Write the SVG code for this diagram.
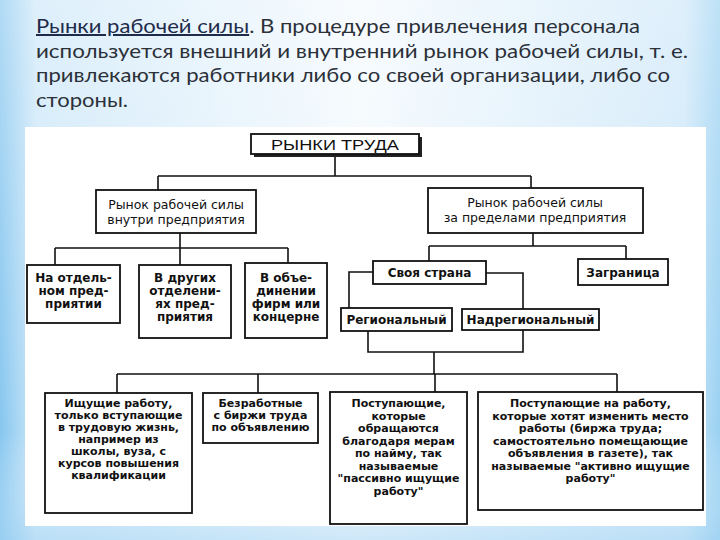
<svg xmlns="http://www.w3.org/2000/svg" width="720" height="540" viewBox="0 0 720 540">
<defs>
<linearGradient id="bgH" x1="0" y1="0" x2="1" y2="0">
<stop offset="0" stop-color="#86c6ef"/>
<stop offset="0.05" stop-color="#cce7f9"/>
<stop offset="0.5" stop-color="#f3f9fd"/>
<stop offset="0.95" stop-color="#cde7f9"/>
<stop offset="1" stop-color="#9ad1f2"/>
</linearGradient>
<linearGradient id="bgV" x1="0" y1="0" x2="0" y2="1">
<stop offset="0" stop-color="#ffffff" stop-opacity="0.35"/>
<stop offset="0.8" stop-color="#ffffff" stop-opacity="0"/>
<stop offset="1" stop-color="#a8d6f4" stop-opacity="0.5"/>
</linearGradient>
<style>
.box{fill:#fff;stroke:#111;stroke-width:1.8}
.con{fill:none;stroke:#111;stroke-width:1.6}
.t{font-family:"DejaVu Sans","Liberation Sans",sans-serif;fill:#111;text-anchor:middle;font-weight:bold}
.l2{font-size:12.5px;font-weight:normal}
.l3{font-size:12px}
.b{font-size:11px}
.title{font-family:Lato,"Open Sans","Liberation Sans",sans-serif;font-size:20px;fill:#2b3039}
</style>
</defs>
<rect width="720" height="540" fill="url(#bgH)"/>
<rect width="720" height="540" fill="url(#bgV)"/>

<g id="title">
<text class="title" x="36" y="33" textLength="604" lengthAdjust="spacingAndGlyphs"><tspan text-decoration="underline" fill="#1f2b4a">Рынки рабочей силы</tspan>. В процедуре привлечения персонала</text>
<text class="title" x="36" y="57.5" textLength="652" lengthAdjust="spacingAndGlyphs">используется внешний и внутренний рынок рабочей силы, т. е.</text>
<text class="title" x="36" y="82" textLength="634" lengthAdjust="spacingAndGlyphs">привлекаются работники либо со своей организации, либо со</text>
<text class="title" x="36" y="107" textLength="92" lengthAdjust="spacingAndGlyphs">стороны.</text>
</g>

<rect x="25" y="127" width="681" height="399" fill="#fff"/>

<g id="connectors">
<path class="con" d="M335 155V176M158 176H531M158 176V190M531 176V188"/>
<path class="con" d="M180 233V248M55 248H288M55 248V265M180 248V265M288 248V263"/>
<path class="con" d="M533 233V246M429 246H626M429 246V261M626 246V259"/>
<path class="con" d="M373 272H349V308M486 273H523V309"/>
<path class="con" d="M368 331V352H523V330M434 352V374"/>
<path class="con" d="M117 374H617M117 374V393M258 374V393M435 374V392M617 374V392"/>
</g>

<g id="n-rynki-truda">
<rect x="254" y="137" width="168" height="20" fill="#222"/>
<rect class="box" x="251" y="134" width="168" height="20"/>
<text class="t" x="335" y="150" style="font-size:15px;font-weight:normal;font-family:'Liberation Sans',sans-serif" textLength="128" lengthAdjust="spacingAndGlyphs">РЫНКИ ТРУДА</text>
</g>

<g id="n-vnutri">
<rect class="box" x="96" y="190" width="160" height="43"/>
<text class="t l2" x="176" y="209">Рынок рабочей силы</text>
<text class="t l2" x="176" y="224">внутри предприятия</text>
</g>

<g id="n-vne">
<rect class="box" x="428" y="188" width="215" height="45"/>
<text class="t l2" x="535" y="207">Рынок рабочей силы</text>
<text class="t l2" x="535" y="222">за пределами предприятия</text>
</g>

<g id="n-otdelnom">
<rect class="box" x="27" y="265" width="93" height="58"/>
<text class="t l3" x="73.5" y="282">На отдель-</text>
<text class="t l3" x="73.5" y="295">ном пред-</text>
<text class="t l3" x="73.5" y="308">приятии</text>
</g>

<g id="n-drugih">
<rect class="box" x="139" y="265" width="92" height="73"/>
<text class="t l3" x="185" y="282">В других</text>
<text class="t l3" x="185" y="295">отделени-</text>
<text class="t l3" x="185" y="308">ях пред-</text>
<text class="t l3" x="185" y="321">приятия</text>
</g>

<g id="n-obedinenii">
<rect class="box" x="245" y="263" width="82" height="75"/>
<text class="t l3" x="286" y="282">В объе-</text>
<text class="t l3" x="286" y="295">динении</text>
<text class="t l3" x="286" y="308">фирм или</text>
<text class="t l3" x="286" y="321">концерне</text>
</g>

<g id="n-svoya">
<rect class="box" x="373" y="261" width="113" height="23"/>
<text class="t l3" x="429.5" y="277">Своя страна</text>
</g>

<g id="n-zagranica">
<rect class="box" x="578" y="259" width="90" height="26"/>
<text class="t l3" x="623" y="277">Заграница</text>
</g>

<g id="n-regionalny">
<rect class="box" x="341" y="308" width="111" height="23"/>
<text class="t l3" x="396.5" y="324">Региональный</text>
</g>

<g id="n-nadregionalny">
<rect class="box" x="462" y="309" width="137" height="21"/>
<text class="t l3" x="530.5" y="324">Надрегиональный</text>
</g>

<g id="n-ischushie">
<rect class="box" x="45" y="393" width="147" height="120"/>
<text class="t b" x="118.5" y="407">Ищущие работу,</text>
<text class="t b" x="118.5" y="419">только вступающие</text>
<text class="t b" x="118.5" y="431">в трудовую жизнь,</text>
<text class="t b" x="118.5" y="443">например  из</text>
<text class="t b" x="118.5" y="455">школы, вуза, с</text>
<text class="t b" x="118.5" y="467">курсов повышения</text>
<text class="t b" x="118.5" y="479">квалификации</text>
</g>

<g id="n-bezrabotnye">
<rect class="box" x="203" y="393" width="115" height="50"/>
<text class="t b" x="260.5" y="407">Безработные</text>
<text class="t b" x="260.5" y="419">с биржи труда</text>
<text class="t b" x="260.5" y="431">по объявлению</text>
</g>

<g id="n-passivno">
<rect class="box" x="330" y="392" width="137" height="132"/>
<text class="t b" x="398.5" y="407">Поступающие,</text>
<text class="t b" x="398.5" y="420">которые</text>
<text class="t b" x="398.5" y="432">обращаются</text>
<text class="t b" x="398.5" y="445">благодаря мерам</text>
<text class="t b" x="398.5" y="457">по найму, так</text>
<text class="t b" x="398.5" y="470">называемые</text>
<text class="t b" x="398.5" y="482">"пассивно ищущие</text>
<text class="t b" x="398.5" y="495">работу"</text>
</g>

<g id="n-aktivno">
<rect class="box" x="478" y="392" width="225" height="118"/>
<text class="t b" x="590.5" y="407">Поступающие на работу,</text>
<text class="t b" x="590.5" y="420">которые хотят изменить место</text>
<text class="t b" x="590.5" y="432">работы (биржа труда;</text>
<text class="t b" x="590.5" y="445">самостоятельно помещающие</text>
<text class="t b" x="590.5" y="457">объявления в газете), так</text>
<text class="t b" x="590.5" y="470">называемые "активно ищущие</text>
<text class="t b" x="590.5" y="482">работу"</text>
</g>
</svg>
